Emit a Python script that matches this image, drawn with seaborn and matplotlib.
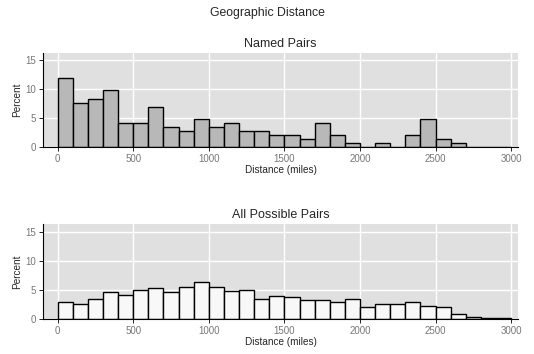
import numpy as np
import matplotlib
matplotlib.use("Agg")
import matplotlib.pyplot as plt
import seaborn as sns

# bin edges (miles) shared by both panels
BIN_EDGES = list(range(0, 3100, 100))

# percent per 100-mile bin
NAMED_PCT = [11.9, 7.7, 8.4, 9.8, 4.2, 4.2, 7.0, 3.5, 2.8, 4.9,
             3.5, 4.2, 2.8, 2.8, 2.1, 2.1, 1.4, 4.2, 2.1, 0.7,
             0.0, 0.7, 0.0, 2.1, 4.9, 1.4, 0.7, 0.0, 0.0, 0.0]
ALL_PCT = [2.9, 2.5, 3.5, 4.6, 4.1, 5.0, 5.4, 4.6, 5.5, 6.3,
           5.5, 4.8, 5.0, 3.5, 3.9, 3.8, 3.3, 3.2, 3.0, 3.5,
           2.1, 2.6, 2.6, 3.0, 2.3, 2.1, 0.9, 0.3, 0.1, 0.1]

X_TICKS = [0, 500, 1000, 1500, 2000, 2500, 3000]
Y_TICKS = [0, 5, 10, 15]

sns.set_theme(style="darkgrid", rc={
    "axes.facecolor": "#e0e0e0",
    "grid.color": "white",
    "grid.linewidth": 1.0,
    "axes.edgecolor": "black",
})
plt.rcParams['font.family'] = ['Liberation Sans', 'DejaVu Sans']

fig = plt.figure(figsize=(5.34, 3.54), dpi=100)
ax1 = fig.add_axes([43 / 534, 1 - 147 / 354, 475 / 534, 94 / 354])
ax2 = fig.add_axes([43 / 534, 1 - 319 / 354, 475 / 534, 95 / 354])

centers = [(a + b) / 2 for a, b in zip(BIN_EDGES[:-1], BIN_EDGES[1:])]

panels = [
    (ax1, NAMED_PCT, "#b8b8b8", "Named Pairs"),
    (ax2, ALL_PCT, "#f8f8f8", "All Possible Pairs"),
]
for ax, pct, color, title in panels:
    sns.histplot(x=centers, weights=pct, bins=BIN_EDGES, color=color,
                 edgecolor="black", linewidth=1.0, alpha=1.0, ax=ax)
    ax.set_xlim(-97, 3045)
    ax.set_ylim(0, 16.3)
    ax.set_xticks(X_TICKS)
    ax.set_yticks(Y_TICKS)
    ax.set_title(title, fontsize=9, pad=4)
    ax.set_xlabel("Distance (miles)", fontsize=7.2, labelpad=1)
    ax.set_ylabel("Percent", fontsize=7.2, labelpad=2)
    ax.tick_params(axis="both", labelsize=7, labelcolor="#777777",
                   length=3, width=0.6, color="black", pad=2,
                   bottom=True, left=True)
    for side in ["top", "right"]:
        ax.spines[side].set_visible(False)
    for side in ["left", "bottom"]:
        ax.spines[side].set_visible(True)
        ax.spines[side].set_linewidth(0.8)
    ax.set_axisbelow(True)

fig.suptitle("Geographic Distance", fontsize=8.8, y=1 - 13 / 354, va="center")

plt.savefig("out.png", dpi=100)
plt.close()
